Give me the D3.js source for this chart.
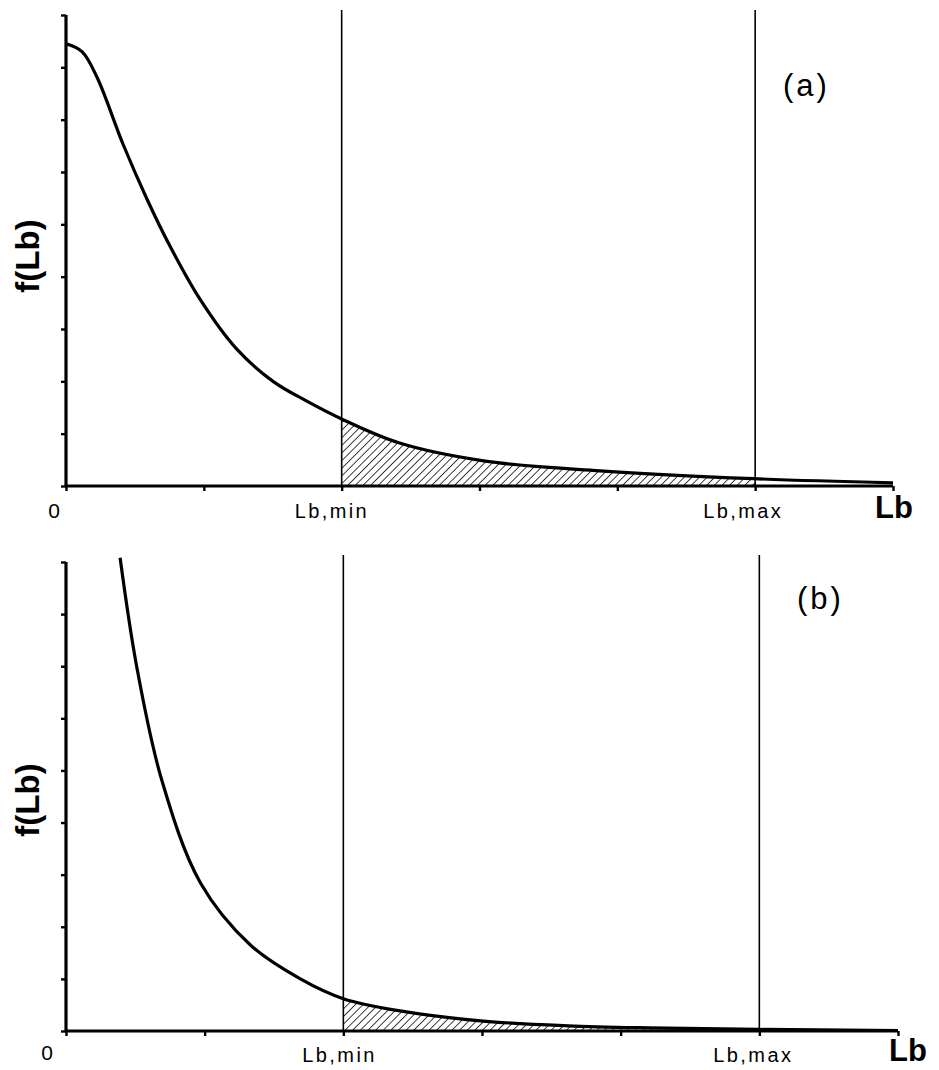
<!DOCTYPE html>
<html>
<head>
<meta charset="utf-8">
<script src="https://cdn.jsdelivr.net/npm/d3@7"></script>
<style>
  html, body { margin: 0; padding: 0; background: #fff; }
  svg { display: block; }
</style>
</head>
<body>
<svg id="chart" width="939" height="1070"></svg>
<script>
// ---- data ----
const xTickValues = [0, 1, 2, 3, 4, 5, 6];
const yTickValues = [0, 1, 2, 3, 4, 5, 6, 7, 8, 9];
const boundValues = [2, 5];
const boundLabels = ["Lb,min", "Lb,max"];
const panelNames = ["(a)", "(b)"];

const curveA_x = [0, 0.116, 0.225, 0.414, 0.588, 0.755, 0.972, 1.234, 1.502, 1.734, 2.0, 2.42, 3.03, 3.875, 4.99, 6.0];
const curveA_y = [8.45, 8.30, 7.81, 6.53, 5.48, 4.58, 3.57, 2.63, 2.00, 1.64, 1.28, 0.82, 0.48, 0.29, 0.14, 0.06];

const curveB_x = [0.39, 0.51, 0.69, 0.97, 1.33, 1.69, 2.0, 2.42, 3.01, 3.62, 4.2, 5.0, 6.0];
const curveB_y = [9.08, 6.99, 4.82, 2.84, 1.65, 1.00, 0.62, 0.38, 0.19, 0.10, 0.06, 0.03, 0.01];

// ---- layout ----
const svg = d3.select("#chart");
const defs = svg.append("defs");
defs.append("pattern")
  .attr("id", "hatch")
  .attr("patternUnits", "userSpaceOnUse")
  .attr("width", 5.4).attr("height", 5.4)
  .attr("patternTransform", "rotate(45)")
  .append("line")
  .attr("x1", 0).attr("y1", 0).attr("x2", 0).attr("y2", 5.4)
  .attr("stroke", "#000").attr("stroke-width", 1.5);

const FONT = "Liberation Sans, Arial, sans-serif";

const panels = [
  { name: panelNames[0], xs: curveA_x, ys: curveA_y, x0: 66, x1: 893, yb: 486, yt: 15, refTop: 10,
    nameX: 783, nameY: 96, lblY: 518, lblDx: [-47, -52], zeroX: 54, zeroY: 518, titleX: 875, titleY: 518, fY: 256 },
  { name: panelNames[1], xs: curveB_x, ys: curveB_y, x0: 66, x1: 898, yb: 1031, yt: 562, refTop: 555,
    nameX: 797, nameY: 609, lblY: 1062, lblDx: [-41, -46], zeroX: 47, zeroY: 1060, titleX: 889, titleY: 1061, fY: 800 }
];

panels.forEach((p, i) => {
  const g = svg.append("g");
  const x = d3.scaleLinear().domain([0, 6]).range([p.x0, p.x1]);
  const y = d3.scaleLinear().domain([0, 9]).range([p.yb, p.yt]);
  const pts = p.xs.map((v, k) => [v, p.ys[k]]);
  const curveType = d3.curveCatmullRom.alpha(0.5);

  // clip for hatched region
  const clipId = "clip" + i;
  defs.append("clipPath").attr("id", clipId)
    .append("rect")
    .attr("x", x(boundValues[0])).attr("y", 0)
    .attr("width", x(boundValues[1]) - x(boundValues[0]))
    .attr("height", 1070);

  const area = d3.area()
    .x(d => x(d[0])).y0(y(0)).y1(d => y(d[1]))
    .curve(curveType);
  g.append("path").datum(pts)
    .attr("d", area)
    .attr("fill", "url(#hatch)")
    .attr("clip-path", `url(#${clipId})`);

  // reference vertical lines
  g.selectAll(".ref").data(boundValues).enter().append("line")
    .attr("x1", d => x(d)).attr("x2", d => x(d))
    .attr("y1", p.refTop).attr("y2", y(0))
    .attr("stroke", "#000").attr("stroke-width", 1.6);

  // curve
  const line = d3.line().x(d => x(d[0])).y(d => y(d[1])).curve(curveType);
  g.append("path").datum(pts)
    .attr("d", line)
    .attr("fill", "none").attr("stroke", "#000").attr("stroke-width", 3.2)
    .attr("stroke-linejoin", "round");

  // axes
  const xAxis = d3.axisBottom(x).tickValues(xTickValues).tickSize(5).tickFormat("");
  const yAxis = d3.axisLeft(y).tickValues(yTickValues).tickSize(5).tickFormat("");
  const gx = g.append("g").attr("transform", `translate(0,${y(0)})`).call(xAxis);
  const gy = g.append("g").attr("transform", `translate(${x(0)},0)`).call(yAxis);
  [gx, gy].forEach(a => {
    a.select(".domain").attr("stroke", "#000").attr("stroke-width", 3.2)
      .attr("d", a === gx ? `M${p.x0},0H${p.x1}` : `M0,${p.yb}V${p.yt}`);
    a.selectAll(".tick line").attr("stroke", "#000").attr("stroke-width", 2.4);
  });

  // bound labels
  g.selectAll(".blbl").data(boundValues).enter().append("text")
    .attr("x", (d, k) => x(d) + p.lblDx[k]).attr("y", p.lblY)
    .attr("font-family", FONT)
    .attr("font-size", 20).attr("letter-spacing", 2.4)
    .text((d, k) => boundLabels[k]);

  // zero label
  g.append("text").attr("x", p.zeroX).attr("y", p.zeroY)
    .attr("text-anchor", "middle")
    .attr("font-family", FONT)
    .attr("font-size", 21).text(xTickValues[0]);

  // axis title
  g.append("text").attr("x", p.titleX).attr("y", p.titleY)
    .attr("font-family", FONT)
    .attr("font-size", 31).attr("font-weight", "bold").text("Lb");

  // y title
  g.append("text")
    .attr("transform", `translate(39,${p.fY}) rotate(-90)`)
    .attr("text-anchor", "middle")
    .attr("font-family", FONT)
    .attr("font-size", 33).attr("font-weight", "bold").text("f(Lb)");

  // panel name
  g.append("text").attr("x", p.nameX).attr("y", p.nameY)
    .attr("font-family", FONT)
    .attr("font-size", 31).attr("letter-spacing", 3).text(p.name);
});
</script>
</body>
</html>
